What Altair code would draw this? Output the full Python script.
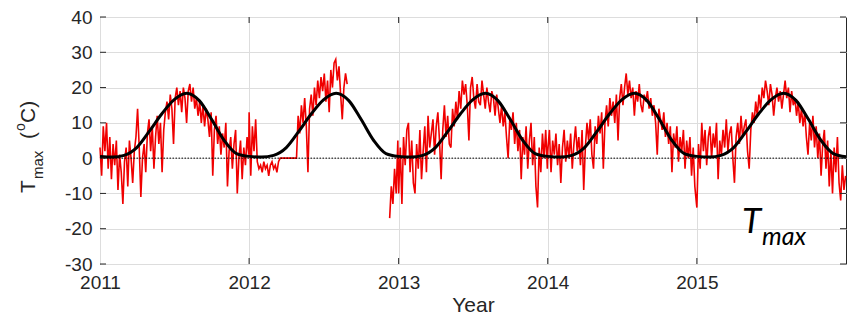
import pandas as pd
import altair as alt

# Daily maximum temperature, one reading every 4 days (deg C); None = no record
STEP_DAYS = 4

tmax_2011 = [3, -5, 9, 2, 10, -3, 6, -6, 4, -2, 5, -9, 1, -4, -13, -1, 3, -8, 5, 0,
             -7, 2, 6, 14, 3, -11, 0, 4, -4, 7, 11, 2, 9, -3, 6, 12, 4, 10, -4, 8,
             13, 16, 11, 18, 14, 4, 17, 20, 15, 19, 13, 20, 17, 10, 19, 21, 16, 20, 14, 17,
             12, 16, 10, 15, 9, 14, 11, 6, 13, -5, 8, 12, 4, 9, 1, 7, 3, 10, -8, 2,
             6, -3, 4, 8, -10, 0, 5, -6, 3, -2, 6, 1]

tmax_2012 = [13, -5, 9, 2, 11, -1, -3, -2, -4, -1, -3, -2, -5, -2, -1, -3, -2, -4, -1,
             0, 0, 0, 0, 0, 0, 0, 0, 0, 0, 0,
             12, 7, 15, 10, 17, 9, -4, 14, 18, 12, 20, 15, 22, 17, 23, 19, 24, 16, 22, 13,
             25, 20, 27, 28, 22, 26, 18, 11, 20, 24, 21,
             None, None, None, None, None, None, None, None, None, None, None, None, None,
             None, None, None, None, None, None, None, None, None, None, None, None,
             -17, -8, -13, -3, -10, 5]

tmax_2013 = [-10, 3, -13, 6, -2, 8, 10, -4, 5, -7, -10, 4, -3, 8, -6, 2, 9, -4, 12, 3,
             7, 11, 1, 9, 13, 5, -6, 8, 15, 6, 12, 4, 3, 14, 9, 16, 11, 19, 14, 22,
             18, 21, 15, 5, 20, 23, 17, 14, 21, 16, 15, 22, 18, 14, 20, 16, 13, 19, 17, 12,
             18, 14, 10, 15, 9, 13, 6, 0, 11, 8, 13, 4, 10, 2, 8, -6, 6, 1, 9, -3,
             5, 10, -2, 6, -8, -14, 3, -4, 7, 0, 8, -3]

tmax_2014 = [2, 8, -4, 5, 1, 7, -2, 4, -7, 3, 8, -1, 5, 0, 7, -3, 4, 9, 2, 6,
             -2, 8, -9, 3, 10, 5, 11, 1, -3, 9, 4, 12, 7, 13, -3, 10, 15, 9, 17, 12,
             16, 10, 18, 5, 17, 21, 15, 20, 24, 18, 22, 17, 20, 12, 19, 16, 21, 15, 13, 18,
             16, 19, 14, 17, 12, 15, 10, 1, 14, 11, 8, 13, 6, 10, 4, 9, -4, 7, 3, 9,
             -1, 6, 2, 8, -3, 5, 0, 6, -5, 3, -8, -13]

tmax_2015 = [-14, 4, -3, 10, 2, 8, -2, 6, 9, 0, 7, 3, 10, -6, 5, 1, 8, 3, 11, 2,
             7, 9, 0, -7, 6, 10, 4, 12, 6, 9, 11, 2, -3, 8, 13, 10, 16, 12, 18, 14,
             20, 17, 22, 19, 15, 21, 18, 12, 17, 20, 16, 19, 14, 18, 22, 17, 20, 13, 19, 15,
             17, 12, 16, 10, 14, 9, 13, 6, 1, 10, 5, 12, 3, 9, 0, 7, -5, 4, 8, -3,
             5, -8, 2, -10, 3, -4, 6, -7, -12, -2, -9, -5]

tmax_by_year = {2011: tmax_2011, 2012: tmax_2012, 2013: tmax_2013,
                2014: tmax_2014, 2015: tmax_2015}

# Seasonal fit, value on the first day of each month (deg C)
fit_2011 = [0.5, 0.3, 0.8, 3.0, 7.5, 12.5, 16.5, 18.4, 16.3, 11.0, 5.0, 1.3]
fit_2012 = [0.5, 0.3, 0.8, 3.0, 7.5, 12.5, 16.5, 18.4, 16.3, 11.0, 5.0, 1.3]
fit_2013 = [0.5, 0.3, 0.8, 3.0, 7.5, 12.5, 16.5, 18.4, 16.3, 11.0, 5.0, 1.3]
fit_2014 = [0.5, 0.3, 0.8, 3.0, 7.5, 12.5, 16.5, 18.4, 16.3, 11.0, 5.0, 1.3]
fit_2015 = [0.5, 0.3, 0.8, 3.0, 7.5, 12.5, 16.5, 18.4, 16.3, 11.0, 5.0, 1.3]
fit_end = 0.4  # 2016-01-01
fit_by_year = {2011: fit_2011, 2012: fit_2012, 2013: fit_2013,
               2014: fit_2014, 2015: fit_2015}

year_ticks = [2011, 2012, 2013, 2014, 2015]
inner_year_ticks = [2012, 2013, 2014, 2015]
temp_ticks = [-30, -20, -10, 0, 10, 20, 30, 40]

y_title_parts = ["T", "max", "(", "o", "C)"]
panel_label = ["T", "max"]

# ---- tables ----
rows = []
segment, in_gap = 0, False
for year, vals in tmax_by_year.items():
    start = pd.Timestamp(year=year, month=1, day=1)
    for i, v in enumerate(vals):
        if v is None:
            if not in_gap:
                segment += 1
                in_gap = True
            continue
        in_gap = False
        rows.append({"date": start + pd.Timedelta(days=STEP_DAYS * i),
                     "tmax": v, "seg": segment})
obs = pd.DataFrame(rows)

fit_rows = []
for year, vals in fit_by_year.items():
    for m, v in enumerate(vals, start=1):
        fit_rows.append({"date": pd.Timestamp(year=year, month=m, day=1), "tmax": v})
fit_rows.append({"date": pd.Timestamp(year=2016, month=1, day=1), "tmax": fit_end})
fit = pd.DataFrame(fit_rows)

year_tick_df = pd.DataFrame({"date": [pd.Timestamp(year=y, month=1, day=1) for y in inner_year_ticks]})
temp_tick_df = pd.DataFrame({"tmax": temp_ticks})
zero_df = pd.DataFrame({"tmax": [0]})

W, H = 746, 247
FONT = "Liberation Sans"
INK = "#262626"

x_enc = alt.X(
    "date:T",
    scale=alt.Scale(domain=[alt.DateTime(year=2011, month=1, date=1),
                            alt.DateTime(year=2016, month=1, date=1)]),
    axis=alt.Axis(values=[alt.DateTime(year=y, month=1, date=1) for y in year_ticks],
                  format="%Y", labelFlush=False, title="Year",
                  titleFontSize=21, titleFontWeight="normal", titlePadding=2,
                  labelPadding=9),
)
y_enc = alt.Y(
    "tmax:Q",
    scale=alt.Scale(domain=[-30, 40], nice=False, zero=False),
    axis=alt.Axis(values=temp_ticks, title=None, labelExpr="datum.value + ''",
                  labelPadding=8),
)

red = alt.Chart(obs).mark_line(color="#f00000", strokeWidth=1.6).encode(
    x=x_enc, y=y_enc, detail="seg:N")

seasonal = alt.Chart(fit).mark_line(color="black", strokeWidth=3,
                                    interpolate="monotone").encode(x=x_enc, y=y_enc)

zero = alt.Chart(zero_df).mark_rule(color="black", strokeWidth=1,
                                    strokeDash=[1.5, 1.5]).encode(y=y_enc)

tick_style = dict(color=INK, strokeWidth=1)
x_ticks_bottom = alt.Chart(year_tick_df).mark_rule(**tick_style).encode(
    x=x_enc, y=alt.value(H), y2=alt.value(H - 6))
x_ticks_top = alt.Chart(year_tick_df).mark_rule(**tick_style).encode(
    x=x_enc, y=alt.value(0), y2=alt.value(6))
y_ticks_left = alt.Chart(temp_tick_df).mark_rule(**tick_style).encode(
    y=y_enc, x=alt.value(0), x2=alt.value(6))
y_ticks_right = alt.Chart(temp_tick_df).mark_rule(**tick_style).encode(
    y=y_enc, x=alt.value(W), x2=alt.value(W - 6))


def label(text, x, y, size, angle=0, font=FONT, style="normal"):
    return alt.Chart(pd.DataFrame({"t": [text]})).mark_text(
        align="left", baseline="alphabetic", angle=angle, fontSize=size,
        font=font, fontStyle=style, color=INK if font == FONT else "black",
    ).encode(text="t:N", x=alt.value(x), y=alt.value(y))


# rotated y-axis title: T_max (^oC)
y_title = [
    label(y_title_parts[0], -65, 176, 21, angle=270),
    label(y_title_parts[1], -57, 162, 15, angle=270),
    label(y_title_parts[2], -65, 122, 21, angle=270),
    label(y_title_parts[3], -75, 114, 14, angle=270),
    label(y_title_parts[4], -65, 106, 21, angle=270),
]

# panel label T_max
panel = [
    label(panel_label[0], 642, 216, 35, font="Lato", style="italic"),
    label(panel_label[1], 662, 228, 25, font="Lato", style="italic"),
]

chart = alt.layer(
    red, seasonal, zero, x_ticks_bottom, x_ticks_top, y_ticks_left, y_ticks_right,
    *y_title, *panel
).properties(
    width=W, height=H, autosize="none",
    padding={"left": 100, "top": 17, "right": 7, "bottom": 57},
).configure_view(
    stroke=INK, strokeWidth=1,
).configure_axis(
    labelFont=FONT, labelFontSize=19, labelColor=INK,
    titleFont=FONT, titleColor=INK,
    tickSize=0, domain=False, grid=True, gridColor="#dddddd", gridWidth=1,
)

chart.save("out.html", embed_options={"renderer": "svg", "actions": False})
